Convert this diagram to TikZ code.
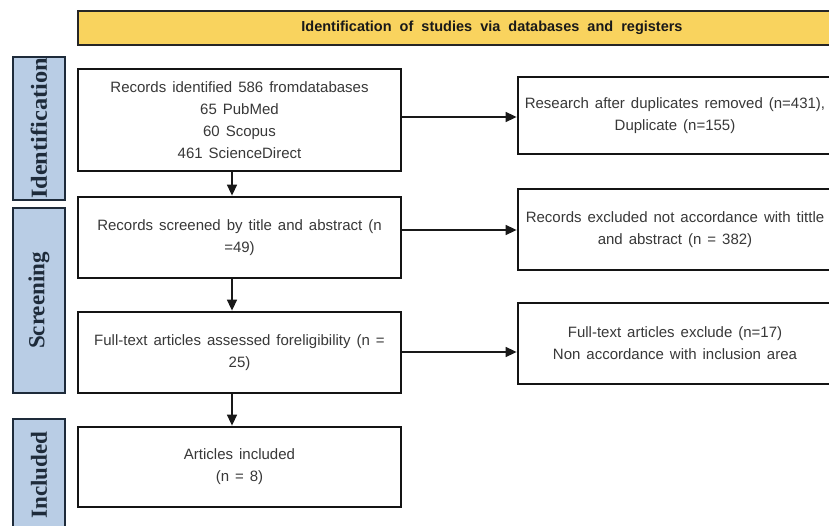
\documentclass[tikz,border=0pt]{standalone}
\usepackage{fontspec}
\setmainfont{Liberation Sans}
\newfontfamily\sideserif{Liberation Serif}
\usetikzlibrary{arrows.meta}
\definecolor{bannerfill}{HTML}{F9D35E}
\definecolor{sidefill}{HTML}{B9CDE5}
\definecolor{sidedraw}{HTML}{1E2B3A}
\definecolor{txt}{HTML}{383838}
\newcommand\boxfontsel{\fontsize{15}{22}\selectfont\spaceskip 0.4em plus 0.1em\relax}
\tikzset{
  flowbox/.style={draw=black!92, line width=2.8pt, fill=white, align=center,
    inner sep=0pt, text=txt, font=\boxfontsel},
  sidebox/.style={draw=sidedraw, line width=2.8pt, fill=sidefill, rotate=90,
    inner sep=0pt, text=sidedraw, font=\sideserif\bfseries\fontsize{23}{26}\selectfont},
  bannerbox/.style={draw=black!85, line width=2.8pt, fill=bannerfill, inner sep=0pt,
    text=black!90, font=\bfseries\fontsize{14.5}{17}\selectfont},
  arr/.style={line width=1.5pt, draw=black!90, -{Triangle[length=11pt,width=10pt]}},
}
\begin{document}
\begin{tikzpicture}[x=1pt,y=-1pt]
\useasboundingbox (0,0) rectangle (829,526);
\clip (0,0) rectangle (829,526);
\fill[white] (0,0) rectangle (829,526);
% banner
\node[bannerbox, minimum width=828, minimum height=34] (banner) at (492,28)
  {Identification\ \ of\ \ studies\ \ via\ \ databases\ \ and\ \ registers};
% side labels
\node[sidebox, minimum width=143, minimum height=52] (sideI) at (39,128.5) {\scalebox{1.06}[1]{Identification}};
\node[sidebox, minimum width=185, minimum height=52] (sideS) at (39,300.5) {Screening};
\node[sidebox, minimum width=112, minimum height=52] (sideN) at (39,475) {Included};
% left boxes
\node[flowbox, minimum width=323, minimum height=102] (b1) at (239.5,120)
  {Records identified 586 fromdatabases\\65 PubMed\\60 Scopus\\461 ScienceDirect};
\node[flowbox, minimum width=323, minimum height=81] (b2) at (239.5,237.5)
  {Records screened by title and abstract (n\\=49)};
\node[flowbox, minimum width=323, minimum height=81] (b3) at (239.5,352.5)
  {Full-text articles assessed foreligibility (n =\\25)};
\node[flowbox, minimum width=323, minimum height=80] (b4) at (239.5,467)
  {Articles included\\(n = 8)};
% right boxes
\node[flowbox, minimum width=314, minimum height=77] (r1) at (675,115.5)
  {Research after duplicates removed (n=431),\\Duplicate (n=155)};
\node[flowbox, minimum width=314, minimum height=81] (r2) at (675,229.5)
  {Records excluded not accordance with tittle\\and abstract (n = 382)};
\node[flowbox, minimum width=314, minimum height=81] (r3) at (675,343.5)
  {Full-text articles exclude (n=17)\\Non accordance with inclusion area};
% horizontal arrows
\draw[arr] (b1.east |- 0,117) -- (r1.west |- 0,117);
\draw[arr] (b2.east |- 0,230) -- (r2.west |- 0,230);
\draw[arr] (b3.east |- 0,352) -- (r3.west |- 0,352);
% down arrows
\draw[arr] ([xshift=-7.5pt]b1.south) -- ([xshift=-7.5pt]b2.north);
\draw[arr] ([xshift=-7.5pt]b2.south) -- ([xshift=-7.5pt]b3.north);
\draw[arr] ([xshift=-7.5pt]b3.south) -- ([xshift=-7.5pt]b4.north);
\end{tikzpicture}
\end{document}
